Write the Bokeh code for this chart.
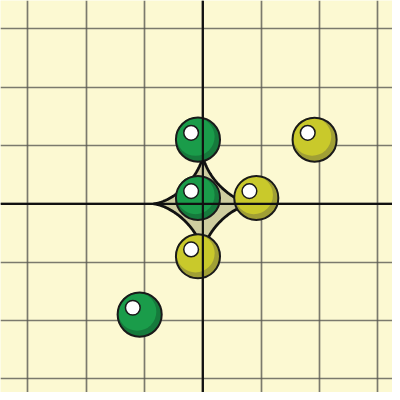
import numpy as np
from bokeh.plotting import figure
from bokeh.models import FixedTicker, Span
from bokeh.embed import file_html
from bokeh.resources import INLINE

# data
green_x = [0, 0, -1]
green_y = [1, 0, -2]
yellow_x = [2, 1, 0]
yellow_y = [1, 0, -1]
astroid_radius = 0.85
ticks = [-3, -2, -1, 0, 1, 2, 3]

W = 392
K = W / 400.0          # scale from reference pixels
UNIT = 59.5            # reference px per unit
x_range = (-206.5 / UNIT, (400 - 206.5) / UNIT)
y_range = (-(400 - 207.5) / UNIT, 207.5 / UNIT)

p = figure(width=W, height=W, x_range=x_range, y_range=y_range,
           output_backend="svg", toolbar_location=None,
           background_fill_color="#fcf9d2", border_fill_color="#fcf9d2",
           min_border=0, outline_line_color=None)
p.xaxis.visible = False
p.yaxis.visible = False
p.xgrid.ticker = FixedTicker(ticks=ticks)
p.ygrid.ticker = FixedTicker(ticks=ticks)
for g in (p.xgrid, p.ygrid):
    g.grid_line_color = "#5a5a54"
    g.grid_line_alpha = 0.8
    g.grid_line_width = 1.7

t = np.linspace(0, 2 * np.pi, 400)
ax = astroid_radius * np.cos(t) ** 3
ay = astroid_radius * np.sin(t) ** 3
p.patch(ax, ay, fill_color="#cfcda0", line_color="#111111", line_width=2.8)
p.add_layout(Span(location=0, dimension="width", line_color="#111111", line_width=2.2))
p.add_layout(Span(location=0, dimension="height", line_color="#111111", line_width=2.2))

# ball offset (px in reference) -> data units
off_dx, off_dy = -5 / UNIT, 6 / UNIT

def balls(xs, ys, base, dark):
    bx = [x + off_dx for x in xs]
    by = [y + off_dy for y in ys]
    p.scatter(bx, by, marker="circle", size=45 * K, fill_color=dark, line_color=None)
    lx = [x - 2.5 / UNIT for x in bx]
    ly = [y + 3 / UNIT for y in by]
    p.scatter(lx, ly, marker="circle", size=39 * K, fill_color=base, line_color=None)
    p.scatter(bx, by, marker="circle", size=45 * K, fill_color=None,
              line_color="#1a1a1a", line_width=2)
    hx = [x - 7 / UNIT for x in bx]
    hy = [y + 7 / UNIT for y in by]
    p.scatter(hx, hy, marker="circle", size=15 * K, fill_color="white",
              line_color="#1a1a1a", line_width=1.5)

balls(green_x, green_y, "#1a9c4a", "#167a3c")
balls(yellow_x, yellow_y, "#c9c92b", "#a09f35")

open("out.html", "w").write(file_html(p, INLINE))
